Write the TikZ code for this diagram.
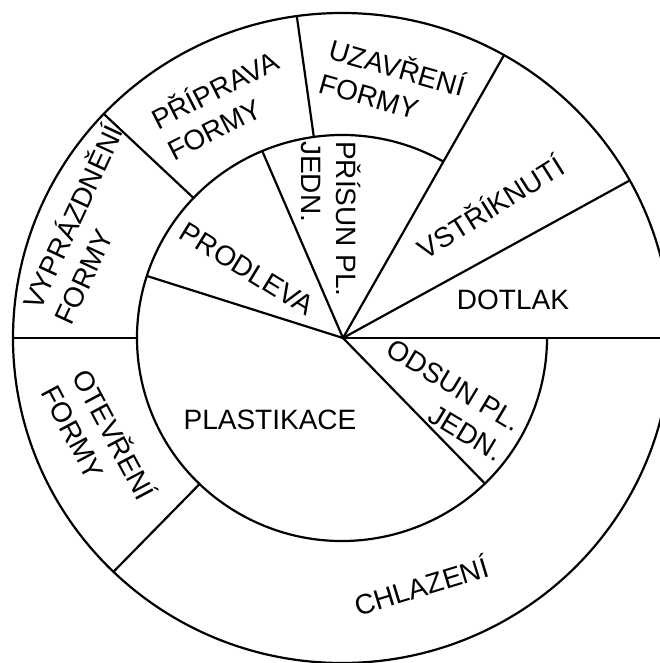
\documentclass[tikz,border=0pt]{standalone}
\usepackage{fontspec}
\setmainfont{Liberation Sans}
\usetikzlibrary{calc}
\begin{document}
\begin{tikzpicture}[x=1pt,y=1pt,
  ln/.style={line width=2.2pt, line cap=round},
  lbl/.style={font=\fontsize{28}{35}\selectfont, inner sep=0pt}]
\useasboundingbox (0,0) rectangle (660,-663);
\clip (0,0) rectangle (660,-663);
\fill[white] (0,0) rectangle (660,-663);
\coordinate (O) at (342,-338);
\coordinate (H) at (343,-338);
\coordinate (E) at (662,-338);
% outer circle
\draw[ln] (O) ellipse [x radius=329pt, y radius=325pt];
% points on both circles
\foreach \n/\a in {pa/162.2, pb/112.9, pc/60.5, pd/29, pe/-45.8, qa/180, qb/136.4, qc/97.9, qd/-134}{
  \coordinate (i\n) at ($(O)+(\a:205pt and 203pt)$);
  \coordinate (o\n) at ($(O)+(\a:329pt and 325pt)$);
}
% inner circle (open over the upper right sectors)
\draw[ln] (ipc) arc [start angle=60.5, end angle=360, x radius=205pt, y radius=203pt];
% spokes from hub
\draw[ln] (H) -- (E);
\draw[ln] (H) -- (ipa);
\draw[ln] (H) -- (ipb);
\draw[ln] (H) -- (opc);
\draw[ln] (H) -- (opd);
\draw[ln] (H) -- (ipe);
% outer ring spokes
\draw[ln] (iqa) -- (oqa);
\draw[ln] (iqb) -- (oqb);
\draw[ln] (iqc) -- (oqc);
\draw[ln] (iqd) -- (oqd);
% labels inner ring
\node[lbl] (plast) at (270,-420) {PLASTIKACE};
\node[lbl, rotate=-31.5] (prod) at (247,-269) {PRODLEVA};
\node[lbl, rotate=-90, align=left] (pris) at (331,-219) {PŘÍSUN PL.\\JEDN.};
\node[lbl, rotate=-31, align=right] (odsun) at (445,-400) {ODSUN PL.\\JEDN.};
% labels outer ring
\node[lbl] (dot) at (513,-300) {DOTLAK};
\node[lbl, rotate=32] (vst) at (490,-206) {VSTŘÍKNUTÍ};
\node[lbl, rotate=-16, align=left] (uzav) at (393,-83) {UZAVŘENÍ\\FORMY};
\node[lbl, rotate=27, align=left] (prip) at (222,-104) {PŘÍPRAVA\\FORMY};
\node[lbl, rotate=65, align=left] (vypr) at (87,-224) {VYPRÁZDNĚNÍ\\FORMY};
\node[lbl, rotate=-62, align=left] (otev) at (100,-442) {OTEVŘENÍ\\FORMY};
\node[lbl, rotate=17] (chl) at (421,-585) {CHLAZENÍ};
\end{tikzpicture}
\end{document}
